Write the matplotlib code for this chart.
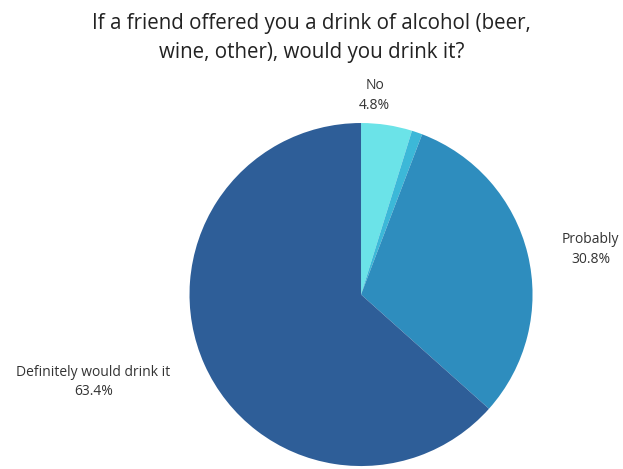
import matplotlib
matplotlib.use('Agg')
import matplotlib.pyplot as plt

# Survey answers, clockwise from 12 o'clock
answers = ['No', '', 'Probably', 'Definitely would drink it']
shares = [4.8, 1.0, 30.8, 63.4]
colors = ['#6be3e8', '#3cb8d8', '#2e8dbe', '#2e5e98']

# where each answer's label sits (in pie radius units)
label_xy = [(0.08, 1.16), None, (1.34, 0.26), (-1.56, -0.51)]

plt.rcParams['font.family'] = ['Open Sans', 'DejaVu Sans']

fig = plt.figure(figsize=(6.23, 4.69), dpi=100)
fig.patch.set_facecolor('white')

# axes box sized so the pie has radius 1 in data units
ax = fig.add_axes([0.5795 - 0.2753, 0.372 - 0.3657, 0.5506, 0.7314])
ax.pie(shares, colors=colors, startangle=90, counterclock=False,
       radius=1, wedgeprops=dict(linewidth=0))
ax.set_xlim(-1, 1)
ax.set_ylim(-1, 1)
ax.set_aspect('equal')
ax.axis('off')

for name, val, xy in zip(answers, shares, label_xy):
    if xy is None:
        continue
    ax.text(xy[0], xy[1], f'{name}\n{val}%', ha='center', va='center',
            fontsize=10, color='#333333', linespacing=1.45, clip_on=False)

fig.text(0.5, 0.918, 'If a friend offered you a drink of alcohol (beer,\nwine, other), would you drink it?',
         ha='center', va='center', fontsize=14.8, color='#222222', linespacing=1.5)

fig.savefig('out.png', dpi=100)
